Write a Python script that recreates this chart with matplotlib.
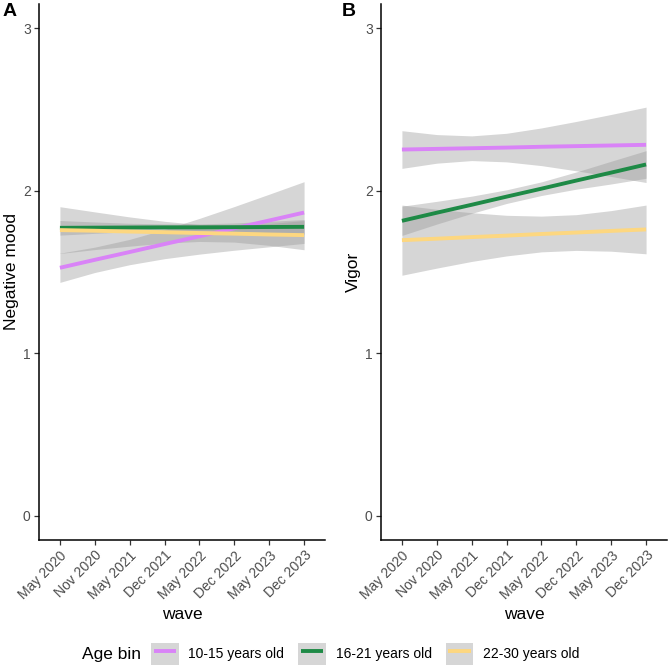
import matplotlib
matplotlib.use("Agg")
import matplotlib.pyplot as plt
from matplotlib.patches import Patch
from matplotlib.lines import Line2D
from matplotlib.legend_handler import HandlerTuple, HandlerLine2D

plt.rcParams['font.family'] = ['Liberation Sans', 'DejaVu Sans']

waves = ["May 2020", "Nov 2020", "May 2021", "Dec 2021",
         "May 2022", "Dec 2022", "May 2023", "Dec 2023"]
groups = ["10-15 years old", "16-21 years old", "22-30 years old"]
colors = ["#D983F7", "#1E8A46", "#FDD780"]

# panel A: negative mood (fit, lower, upper per wave)
neg_fit = [
    [1.526, 1.575, 1.623, 1.672, 1.720, 1.769, 1.817, 1.866],
    [1.772, 1.773, 1.774, 1.775, 1.775, 1.776, 1.777, 1.778],
    [1.758, 1.754, 1.749, 1.745, 1.740, 1.736, 1.731, 1.727],
]
neg_lo = [
    [1.436, 1.497, 1.545, 1.582, 1.610, 1.634, 1.655, 1.676],
    [1.727, 1.738, 1.748, 1.754, 1.754, 1.750, 1.742, 1.733],
    [1.614, 1.638, 1.659, 1.678, 1.688, 1.684, 1.664, 1.637],
]
neg_hi = [
    [1.616, 1.653, 1.701, 1.762, 1.830, 1.903, 1.979, 2.056],
    [1.817, 1.808, 1.800, 1.796, 1.796, 1.802, 1.812, 1.823],
    [1.902, 1.870, 1.839, 1.812, 1.792, 1.788, 1.798, 1.817],
]

# panel B: vigor
vig_fit = [
    [2.254, 2.258, 2.262, 2.266, 2.271, 2.275, 2.279, 2.283],
    [1.815, 1.865, 1.914, 1.964, 2.013, 2.063, 2.112, 2.162],
    [1.696, 1.705, 1.715, 1.724, 1.734, 1.743, 1.753, 1.762],
]
vig_lo = [
    [2.138, 2.170, 2.186, 2.178, 2.155, 2.123, 2.088, 2.051],
    [1.725, 1.795, 1.861, 1.922, 1.971, 2.010, 2.042, 2.077],
    [1.480, 1.524, 1.565, 1.599, 1.624, 1.633, 1.628, 1.612],
]
vig_hi = [
    [2.370, 2.346, 2.338, 2.354, 2.387, 2.427, 2.470, 2.515],
    [1.905, 1.935, 1.967, 2.006, 2.055, 2.116, 2.182, 2.247],
    [1.912, 1.886, 1.865, 1.849, 1.844, 1.853, 1.878, 1.912],
]

W = 669
fig = plt.figure(figsize=(6.69, 6.69), dpi=100)
ax_a = fig.add_axes([39 / W, 1 - 540 / W, 286 / W, 536 / W])
ax_b = fig.add_axes([381 / W, 1 - 540 / W, 286 / W, 536 / W])

x = list(range(1, len(waves) + 1))


def draw_panel(ax, fit, lo, hi, ylabel):
    for i in range(len(groups)):
        ax.fill_between(x, lo[i], hi[i], color="#999999", alpha=0.4,
                        linewidth=0, zorder=1)
    for i in range(len(groups)):
        ax.plot(x, fit[i], color=colors[i], lw=2.8, zorder=3,
                solid_capstyle="butt")
    ax.set_xlim(0.4, 8.6)
    ax.set_ylim(-0.15, 3.15)
    ax.set_yticks([0, 1, 2, 3])
    ax.set_xticks(x)
    ax.set_xticklabels(waves, rotation=45, ha="right", rotation_mode="anchor")
    for s in ["top", "right"]:
        ax.spines[s].set_visible(False)
    for s in ["left", "bottom"]:
        ax.spines[s].set_linewidth(1.1)
    ax.tick_params(length=3.5, width=0.9, color="#333333",
                   labelsize=10, labelcolor="#4D4D4D", pad=2.5)
    ax.set_ylabel(ylabel, fontsize=12.5, labelpad=3)
    ax.set_xlabel("wave", fontsize=12.5, labelpad=4)


draw_panel(ax_a, neg_fit, neg_lo, neg_hi, "Negative mood")
draw_panel(ax_b, vig_fit, vig_lo, vig_hi, "Vigor")

fig.text(3 / W, 1 - 12 / W, "A", fontsize=14, fontweight="bold", va="center")
fig.text(342 / W, 1 - 12 / W, "B", fontsize=14, fontweight="bold", va="center")

# legend: grey ribbon key with the coloured line on top
handles = []
for c in colors:
    handles.append((Patch(facecolor="#999999", alpha=0.4, edgecolor="none"),
                    Line2D([], [], color=c, lw=2.8, solid_capstyle="butt")))
fig.text(82 / W, 1 - 654 / W, "Age bin", fontsize=12.5, va="center")
fig.legend(handles, groups, loc="center left",
           bbox_to_anchor=(151 / W, 1 - 654 / W), ncol=3, frameon=False,
           fontsize=10, handlelength=2.0, handleheight=2.0, handletextpad=0.7,
           columnspacing=1.0, borderpad=0, borderaxespad=0,
           handler_map={tuple: HandlerTuple(ndivide=1, pad=0),
                        Line2D: HandlerLine2D(numpoints=2, marker_pad=0.2)})

fig.savefig("out.png", dpi=100)
